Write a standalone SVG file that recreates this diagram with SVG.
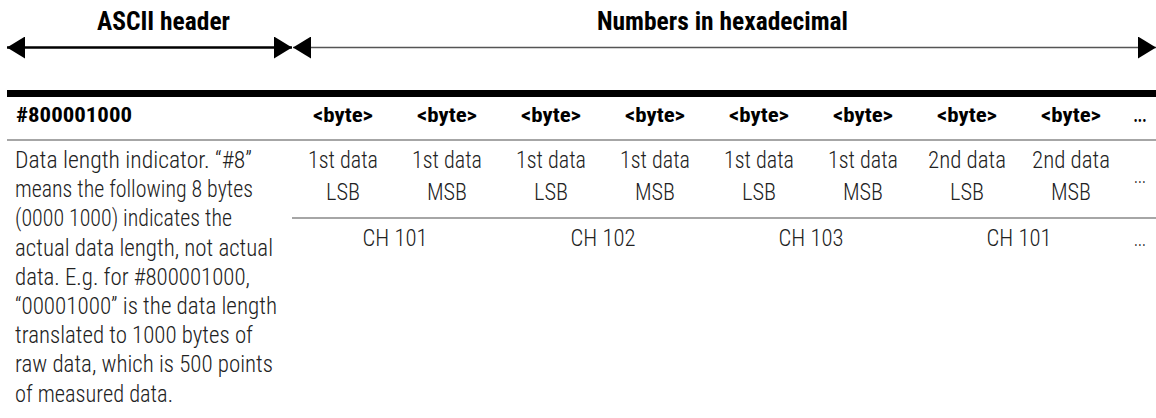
<svg xmlns="http://www.w3.org/2000/svg" width="1156" height="418" viewBox="0 0 1156 418">
<style>
.t{font-family:"Roboto Condensed",Roboto,"Liberation Sans",sans-serif;}
.b{font-weight:700;fill:#000;}
.l{font-weight:300;fill:#222;}
.h{font-size:25px;}
.bh{font-size:21px;}
.d{font-size:23px;}
.c{text-anchor:middle;}
.rule{stroke:#888;stroke-width:1.5;}
</style>
<defs>
<marker id="ah" viewBox="0 0 18 22" refX="18" refY="11" markerWidth="18" markerHeight="22" markerUnits="userSpaceOnUse" orient="auto-start-reverse">
<path d="M0,0 L18,11 L0,22 Z" fill="#000"/>
</marker>
</defs>
<g id="connectors">
<line x1="7" y1="47.5" x2="292" y2="47.5" stroke="#000" stroke-width="2.5" marker-start="url(#ah)" marker-end="url(#ah)"/>
<line x1="293" y1="47.5" x2="1156" y2="47.5" stroke="#555" stroke-width="1.5" marker-start="url(#ah)" marker-end="url(#ah)"/>
</g>
<g id="titles">
<text class="t b h c" x="163.5" y="30" textLength="133" lengthAdjust="spacingAndGlyphs">ASCII header</text>
<text class="t b h c" x="722.5" y="30" textLength="251" lengthAdjust="spacingAndGlyphs">Numbers in hexadecimal</text>
</g>
<g id="table-rules">
<rect x="7" y="90" width="1149" height="7" fill="#000"/>
<line class="rule" x1="7" y1="140" x2="1156" y2="140"/>
<line class="rule" x1="292" y1="218" x2="1156" y2="218"/>
</g>
<g id="header-row">
<text class="t b bh" x="16" y="122" textLength="116" lengthAdjust="spacingAndGlyphs">#800001000</text>
<text class="t b bh c" x="343" y="122" textLength="60" lengthAdjust="spacingAndGlyphs">&lt;byte&gt;</text>
<text class="t b bh c" x="447" y="122" textLength="60" lengthAdjust="spacingAndGlyphs">&lt;byte&gt;</text>
<text class="t b bh c" x="551" y="122" textLength="60" lengthAdjust="spacingAndGlyphs">&lt;byte&gt;</text>
<text class="t b bh c" x="655" y="122" textLength="60" lengthAdjust="spacingAndGlyphs">&lt;byte&gt;</text>
<text class="t b bh c" x="759" y="122" textLength="60" lengthAdjust="spacingAndGlyphs">&lt;byte&gt;</text>
<text class="t b bh c" x="863" y="122" textLength="60" lengthAdjust="spacingAndGlyphs">&lt;byte&gt;</text>
<text class="t b bh c" x="967" y="122" textLength="60" lengthAdjust="spacingAndGlyphs">&lt;byte&gt;</text>
<text class="t b bh c" x="1071" y="122" textLength="60" lengthAdjust="spacingAndGlyphs">&lt;byte&gt;</text>
<text class="t b bh c" x="1140" y="122" textLength="13" lengthAdjust="spacingAndGlyphs">...</text>
</g>
<g id="description">
<text class="t l d" x="15" y="168" textLength="237" lengthAdjust="spacingAndGlyphs">Data length indicator. “#8”</text>
<text class="t l d" x="15" y="197.2" textLength="238" lengthAdjust="spacingAndGlyphs">means the following 8 bytes</text>
<text class="t l d" x="15" y="226.4" textLength="217" lengthAdjust="spacingAndGlyphs">(0000 1000) indicates the</text>
<text class="t l d" x="15" y="255.6" textLength="258" lengthAdjust="spacingAndGlyphs">actual data length, not actual</text>
<text class="t l d" x="15" y="284.8" textLength="235" lengthAdjust="spacingAndGlyphs">data. E.g. for #800001000,</text>
<text class="t l d" x="15" y="314" textLength="262" lengthAdjust="spacingAndGlyphs">“00001000” is the data length</text>
<text class="t l d" x="15" y="343.2" textLength="238" lengthAdjust="spacingAndGlyphs">translated to 1000 bytes of</text>
<text class="t l d" x="15" y="372.4" textLength="258" lengthAdjust="spacingAndGlyphs">raw data, which is 500 points</text>
<text class="t l d" x="15" y="401.6" textLength="158" lengthAdjust="spacingAndGlyphs">of measured data.</text>
</g>
<g id="byte-row">
<text class="t l d c" x="343" y="168" textLength="70" lengthAdjust="spacingAndGlyphs">1st data</text>
<text class="t l d c" x="343" y="200" textLength="34" lengthAdjust="spacingAndGlyphs">LSB</text>
<text class="t l d c" x="447" y="168" textLength="70" lengthAdjust="spacingAndGlyphs">1st data</text>
<text class="t l d c" x="447" y="200" textLength="40" lengthAdjust="spacingAndGlyphs">MSB</text>
<text class="t l d c" x="551" y="168" textLength="70" lengthAdjust="spacingAndGlyphs">1st data</text>
<text class="t l d c" x="551" y="200" textLength="34" lengthAdjust="spacingAndGlyphs">LSB</text>
<text class="t l d c" x="655" y="168" textLength="70" lengthAdjust="spacingAndGlyphs">1st data</text>
<text class="t l d c" x="655" y="200" textLength="40" lengthAdjust="spacingAndGlyphs">MSB</text>
<text class="t l d c" x="759" y="168" textLength="70" lengthAdjust="spacingAndGlyphs">1st data</text>
<text class="t l d c" x="759" y="200" textLength="34" lengthAdjust="spacingAndGlyphs">LSB</text>
<text class="t l d c" x="863" y="168" textLength="70" lengthAdjust="spacingAndGlyphs">1st data</text>
<text class="t l d c" x="863" y="200" textLength="40" lengthAdjust="spacingAndGlyphs">MSB</text>
<text class="t l d c" x="967" y="168" textLength="78" lengthAdjust="spacingAndGlyphs">2nd data</text>
<text class="t l d c" x="967" y="200" textLength="34" lengthAdjust="spacingAndGlyphs">LSB</text>
<text class="t l d c" x="1071" y="168" textLength="78" lengthAdjust="spacingAndGlyphs">2nd data</text>
<text class="t l d c" x="1071" y="200" textLength="40" lengthAdjust="spacingAndGlyphs">MSB</text>
<text class="t l d c" x="1140" y="183" textLength="12" lengthAdjust="spacingAndGlyphs">...</text>
</g>
<g id="channel-row">
<text class="t l d c" x="395" y="246" textLength="65" lengthAdjust="spacingAndGlyphs">CH 101</text>
<text class="t l d c" x="603" y="246" textLength="65" lengthAdjust="spacingAndGlyphs">CH 102</text>
<text class="t l d c" x="811" y="246" textLength="65" lengthAdjust="spacingAndGlyphs">CH 103</text>
<text class="t l d c" x="1019" y="246" textLength="65" lengthAdjust="spacingAndGlyphs">CH 101</text>
<text class="t l d c" x="1140" y="246" textLength="12" lengthAdjust="spacingAndGlyphs">...</text>
</g>
</svg>
